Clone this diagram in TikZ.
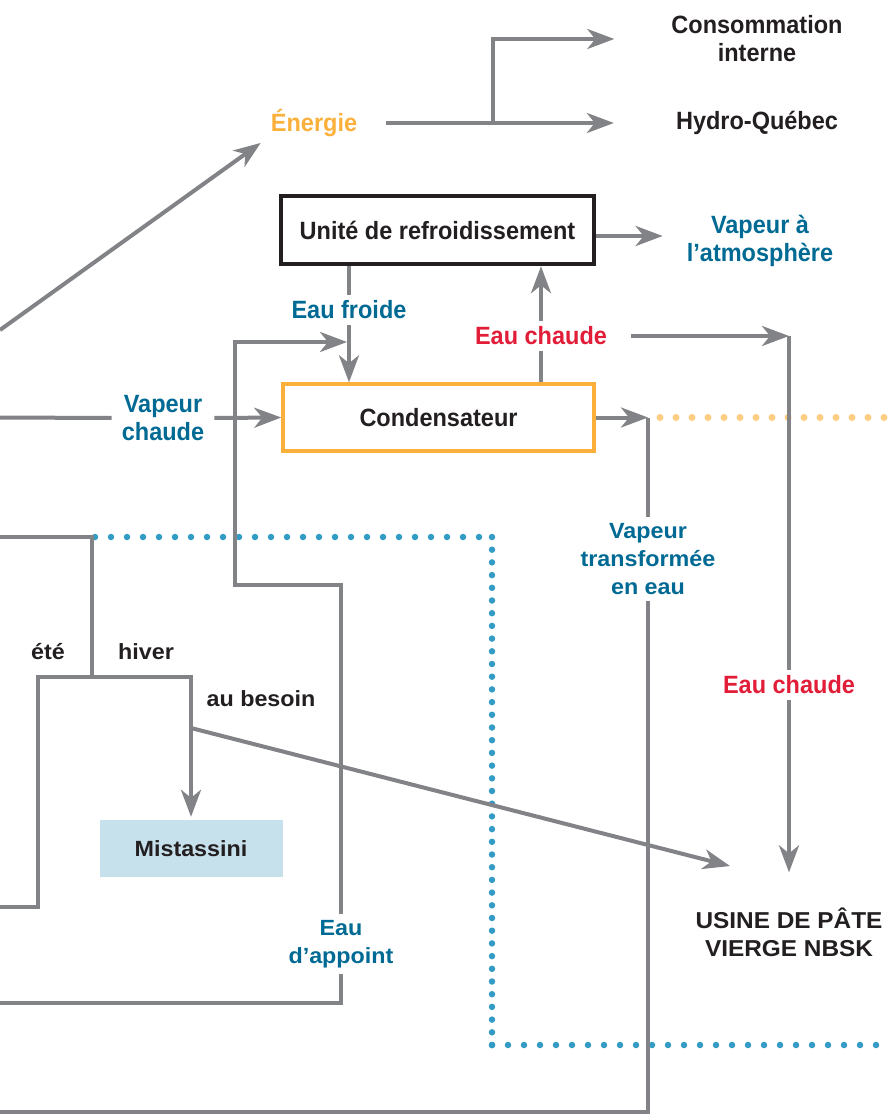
\documentclass[tikz,border=0pt]{standalone}
\usepackage{fontspec}
\setmainfont{Liberation Sans}
\newfontfamily\labfont[FakeStretch=0.94]{Liberation Sans}
\newfontfamily\widefont[FakeStretch=1.06]{Liberation Sans}
\usetikzlibrary{arrows.meta}
\definecolor{flowgray}{RGB}{130,131,135}
\definecolor{steamblue}{RGB}{0,106,148}
\definecolor{hotred}{RGB}{226,29,56}
\definecolor{energyorange}{RGB}{251,176,59}
\definecolor{dotorange}{RGB}{253,205,130}
\definecolor{dotblue}{RGB}{52,155,196}
\definecolor{mistblue}{RGB}{198,224,236}
\definecolor{textdark}{RGB}{35,31,32}
\tikzstyle{flow} = [line width=4pt, draw=flowgray]
\tikzstyle{arrow} = [flow, -{Stealth[length=27pt,width=20pt,inset=8pt]}]
\tikzstyle{lbl} = [font=\labfont\bfseries\fontsize{25}{28}\selectfont, align=center, inner xsep=10pt, inner ysep=6pt]
\tikzstyle{widelbl} = [font=\widefont\bfseries\fontsize{22}{28}\selectfont, align=center, inner xsep=10pt, inner ysep=6pt]
\tikzstyle{unitbox} = [rectangle, draw=textdark, line width=4.5pt, minimum width=313pt, minimum height=68pt, inner sep=0pt, text=textdark, font=\labfont\bfseries\fontsize{25}{28}\selectfont]
\tikzstyle{condbox} = [rectangle, draw=energyorange, line width=3.5pt, minimum width=311pt, minimum height=67pt, inner sep=0pt, text=textdark, font=\labfont\bfseries\fontsize{25}{28}\selectfont]
\tikzstyle{mistbox} = [rectangle, fill=mistblue, minimum width=183pt, minimum height=57pt, inner sep=0pt, text=textdark, font=\widefont\bfseries\fontsize{22}{28}\selectfont]
\tikzstyle{orangedots} = [draw=dotorange, line width=7pt, line cap=round, dash pattern=on 0pt off 16pt]
\tikzstyle{bluedots} = [draw=dotblue, line width=6.5pt, line cap=round, dash pattern=on 0pt off 16pt]
\tikzstyle{bluedotsv} = [draw=dotblue, line width=6.5pt, line cap=round, dash pattern=on 0pt off 12.7pt]

\begin{document}
\begin{tikzpicture}[x=1pt,y=-1pt]
		\useasboundingbox (0,0) rectangle (888,1115);
		% boxes
		\node (refroid) [unitbox] at (437.5,230) {Unité de refroidissement};
		\node (cond) [condbox] at (438.5,417.5) {Condensateur};
		\node (mist) [mistbox] at (191,848.5) {Mistassini};
		% labels
		\node (energie) [lbl, text=energyorange] at (314,123) {Énergie};
		\node (conso) [lbl, text=textdark] at (757,39) {Consommation\\interne};
		\node (hydro) [lbl, text=textdark] at (757,123) {Hydro-Québec};
		\node (vapatm) [lbl, text=steamblue] at (760,241) {Vapeur à\\l’atmosphère};
		\node (froide) [lbl, text=steamblue] at (349,310) {Eau froide};
		\node (chaude1) [lbl, text=hotred] at (541,336) {Eau chaude};
		\node (vapch) [lbl, text=steamblue] at (163,418) {Vapeur\\chaude};
		\node (transf) [widelbl, text=steamblue] at (648,559) {Vapeur\\transformée\\en eau};
		\node (chaude2) [lbl, text=hotred] at (789,685) {Eau chaude};
		\node (appoint) [widelbl, text=steamblue] at (341,944) {Eau\\d’appoint};
		\node (ete) [widelbl, text=textdark] at (48,652) {été};
		\node (hiver) [widelbl, text=textdark] at (146,652) {hiver};
		\node (besoin) [widelbl, text=textdark] at (261,699) {au besoin};
		\node (usine) [widelbl, text=textdark, font=\widefont\bfseries\fontsize{23}{28}\selectfont] at (789,932) {USINE DE PÂTE\\VIERGE NBSK};
		% free ends and bends
		\coordinate (turbIn) at (0,330);
		\coordinate (split) at (493,123);
		\coordinate (vapIn) at (0,417.5);
		\coordinate (hotCorner) at (789,336);
		\coordinate (condCorner) at (648,417.5);
		\coordinate (drainOut) at (0,1112);
		\coordinate (mkIn) at (0,1003);
		\coordinate (mkBend) at (235,585);
		\coordinate (mkTop) at (235,342);
		\coordinate (riverIn) at (0,537);
		\coordinate (seasonSplit) at (92,677);
		\coordinate (eteBend) at (38,907);
		\coordinate (eteOut) at (0,907);
		\coordinate (besoinPt) at (191,728);
		\coordinate (nbskTip) at (730,866);
		\coordinate (orangeA) at (660,417.5);
		\coordinate (orangeB) at (888,417.5);
		\coordinate (dotA) at (95,537);
		\coordinate (dotB) at (492,537);
		\coordinate (dotC) at (492,1045);
		\coordinate (dotD) at (888,1045);
		% dotted limits
		\draw [orangedots] (orangeA) -- (orangeB);
		\draw [bluedots] (dotA) -- (dotB);
		\draw [bluedotsv] (dotB) -- (dotC);
		\draw [bluedots] (dotC) -- (dotD);
		% energy
		\draw [arrow] (turbIn) -- (energie.south west);
		\draw [arrow, shorten <=19pt, shorten >=52pt] (energie.east) -- (hydro.west);
		\draw [arrow, shorten >=47pt] (split) |- (conso.west);
		% cooling loop
		\draw [arrow, shorten >=14pt] ([yshift=-6pt]refroid.east) -- ([yshift=-6pt]refroid.east -| vapatm.west);
		\draw [flow] (refroid.south -| froide) -- (froide.north);
		\draw [arrow] (froide.south) -- (froide.south |- cond.north);
		\draw [flow] (cond.north -| chaude1) -- (chaude1.south);
		\draw [arrow] (chaude1.north) -- (chaude1.north |- refroid.south);
		\draw [arrow, shorten <=14pt] (chaude1.east) -- (hotCorner);
		\draw [flow] (hotCorner) -- (chaude2.north);
		\draw [arrow, shorten >=29pt] (chaude2.south) -- (chaude2.south |- usine.north);
		% steam
		\draw [flow] (vapIn) -- (vapch.west);
		\draw [arrow] (vapch.east) -- (cond.west);
		\draw [arrow] (cond.east) -- (condCorner);
		\draw [flow] (condCorner) -- (transf.north);
		\draw [flow] (transf.south) |- (drainOut);
		% make-up water
		\draw [flow] (mkIn) -| (appoint.south);
		\draw [arrow, shorten >=2pt] (appoint.north) |- (mkBend) -- (mkTop) -- (mkTop -| froide);
		% river water
		\draw [flow] (riverIn) -| (seasonSplit);
		\draw [flow] (seasonSplit) -| (eteBend) -- (eteOut);
		\draw [arrow, shorten >=3pt] (seasonSplit) -| (mist.north);
		\draw [arrow] (besoinPt) -- (nbskTip);
\end{tikzpicture}
\end{document}
